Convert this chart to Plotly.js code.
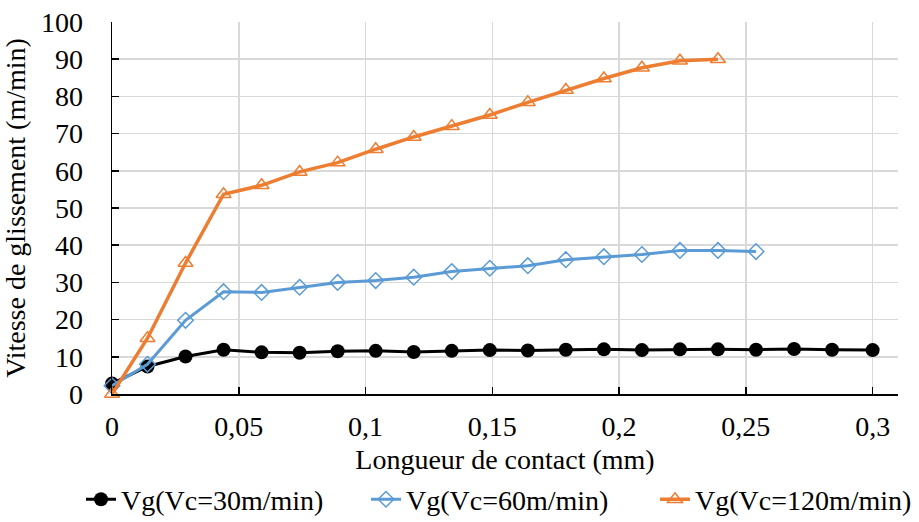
<!DOCTYPE html>
<html>
<head>
<meta charset="utf-8">
<script src="https://cdn.plot.ly/plotly-3.0.1.min.js"></script>
<style>html,body{margin:0;padding:0;background:#fff;}#chart{width:919px;height:522px;}</style>
</head>
<body>
<div id="chart"></div>
<script>
const xContact = [0, 0.014, 0.029, 0.044, 0.059, 0.074, 0.089, 0.104, 0.119, 0.134, 0.149, 0.164, 0.179, 0.194, 0.209, 0.224, 0.239, 0.254, 0.269, 0.284, 0.3];
const vg30 = [2.8, 7.4, 10.1, 11.9, 11.2, 11.1, 11.5, 11.6, 11.3, 11.6, 11.8, 11.7, 11.9, 12.0, 11.8, 12.0, 12.0, 11.9, 12.1, 11.9, 11.8];
const vg60 = [2.2, 8.0, 19.8, 27.5, 27.3, 28.7, 30.0, 30.5, 31.4, 32.9, 33.8, 34.5, 36.1, 36.9, 37.5, 38.6, 38.6, 38.3];
const vg120 = [0, 15.0, 35.2, 53.7, 56.1, 59.7, 62.2, 65.8, 69.1, 72.0, 75.0, 78.4, 81.7, 84.8, 87.7, 89.6, 90.0];
const seriesNames = ['Vg(Vc=30m/min)', 'Vg(Vc=60m/min)', 'Vg(Vc=120m/min)'];
const xTickVals = [0, 0.05, 0.1, 0.15, 0.2, 0.25, 0.3];
const xTickText = ['0', '0,05', '0,1', '0,15', '0,2', '0,25', '0,3'];
const yTickVals = [0, 10, 20, 30, 40, 50, 60, 70, 80, 90, 100];

const F = 'Liberation Serif';

const traces = [
  {
    x: xContact.slice(0, vg30.length), y: vg30, name: seriesNames[0], legend: 'legend',
    mode: 'lines+markers', cliponaxis: false,
    line: {color: '#000000', width: 3},
    marker: {symbol: 'circle', size: 14, color: '#000000'}
  },
  {
    x: xContact.slice(0, vg60.length), y: vg60, name: seriesNames[1], legend: 'legend2',
    mode: 'lines+markers', cliponaxis: false,
    line: {color: '#5B9BD5', width: 3},
    marker: {symbol: 'diamond-open', size: 12, color: '#5B9BD5', line: {color: '#5B9BD5', width: 1.5}}
  },
  {
    x: xContact.slice(0, vg120.length), y: vg120, name: seriesNames[2], legend: 'legend3',
    mode: 'lines+markers', cliponaxis: false,
    line: {color: '#ED7D31', width: 3.5},
    marker: {symbol: 'triangle-up-open', size: 13, color: '#ED7D31', line: {color: '#ED7D31', width: 1.5}}
  }
];

function legendAt(px) {
  return {
    orientation: 'h', xref: 'container', yref: 'container',
    x: px / 919, xanchor: 'left', y: 0.043, yanchor: 'middle',
    font: {family: F, size: 28, color: '#000000'},
    itemwidth: 30, bgcolor: 'rgba(0,0,0,0)'
  };
}

const layout = {
  width: 919, height: 522,
  margin: {l: 112, r: 21, t: 22, b: 128, autoexpand: false},
  paper_bgcolor: '#ffffff', plot_bgcolor: '#ffffff',
  font: {family: F, size: 28, color: '#000000'},
  showlegend: true,
  legend: legendAt(81),
  legend2: legendAt(366),
  legend3: legendAt(655),
  xaxis: {
    range: [0, 0.31], automargin: true,
    tickvals: xTickVals, ticktext: xTickText,
    showgrid: true, gridcolor: '#d9d9d9', gridwidth: 1.5,
    showline: true, linecolor: '#000000', linewidth: 1.5,
    zeroline: false,
    ticks: 'inside', ticklen: 7, tickwidth: 1.5, tickcolor: '#000000',
    ticklabelstandoff: 7,
    tickfont: {family: F, size: 28, color: '#000000'},
    title: {text: 'Longueur de contact (mm)', font: {family: F, size: 28, color: '#000000'}, standoff: 20}
  },
  yaxis: {
    range: [0, 100], automargin: false,
    tickvals: yTickVals,
    showgrid: true, gridcolor: '#d9d9d9', gridwidth: 1.5,
    showline: true, linecolor: '#000000', linewidth: 1.5,
    zeroline: false,
    ticks: 'inside', ticklen: 7, tickwidth: 1.5, tickcolor: '#000000',
    ticklabelstandoff: 22,
    tickfont: {family: F, size: 28, color: '#000000'},
    title: {text: 'Vitesse de glissement (m/min)', font: {family: F, size: 28, color: '#000000'}, standoff: 8}
  }
};

Plotly.newPlot('chart', traces, layout, {displayModeBar: false, staticPlot: true});
</script>
</body>
</html>
